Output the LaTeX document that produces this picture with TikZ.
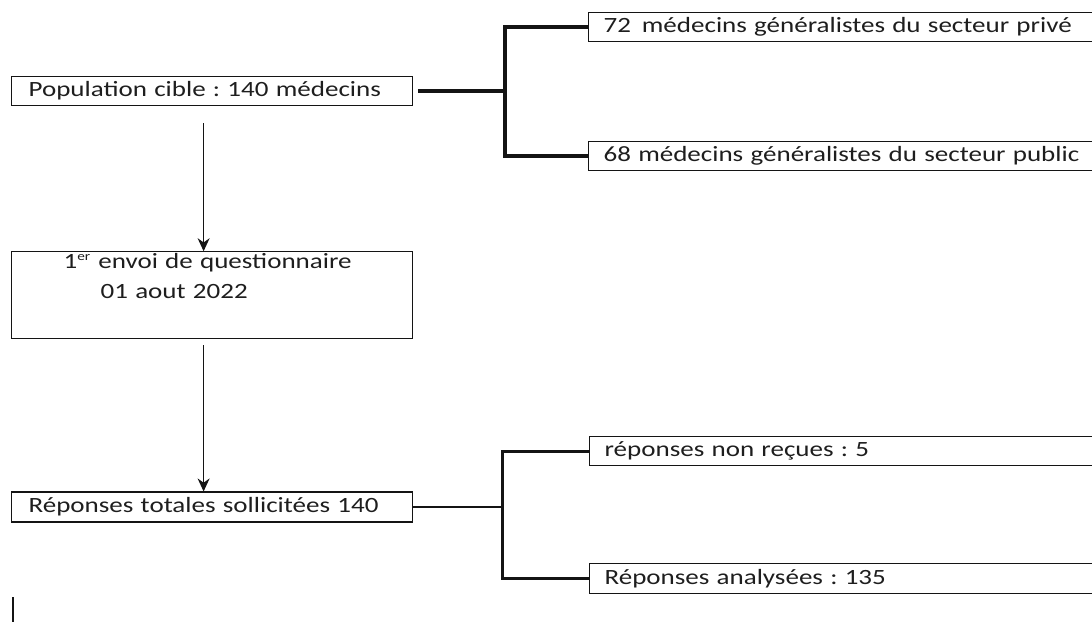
\documentclass[tikz,border=0pt]{standalone}
\usepackage{fontspec}
\setmainfont{Carlito}[FakeStretch=1.24]
\usepackage{xcolor}
\usepackage{tikz}
\usetikzlibrary{arrows.meta,positioning,calc}
\definecolor{cadrenoir}{RGB}{20, 20, 20}
\definecolor{textegris}{RGB}{30, 30, 30}
\frenchspacing

\begin{document}
\begin{tikzpicture}[node distance=2.9cm, >={Stealth[length=0.26cm,width=0.24cm]},
    cadre/.style={draw=cadrenoir, line width=0.7pt, rectangle, inner ysep=0pt, align=left, text=textegris, font=\fontsize{12.4}{17}\selectfont},
    cadregauche/.style={cadre, minimum width=8.02cm, inner xsep=0.34cm, text width=7.34cm},
    cadredroit/.style={cadre, anchor=north west, minimum height=0.58cm, inner xsep=0.3cm, text width=11cm},
    branche/.style={line width=2pt, cadrenoir},
    fleche/.style={->, line width=0.8pt, cadrenoir}]
    \useasboundingbox (0,0) rectangle (21.84,-12.44);
    \clip (0,0) rectangle (21.84,-12.44);

    % colonne de gauche
    \node [cadregauche, minimum height=0.58cm, anchor=north west] (population) at (0.22,-1.52) {Population cible : 140 médecins};
    \node [cadregauche, minimum height=1.74cm, below=2.9cm of population] (envoi) {\hspace{0.7cm}1\textsuperscript{\scriptsize er} envoi de questionnaire\\ \hspace{1.44cm}01 aout 2022\\ \strut};
    \node [cadregauche, minimum height=0.6cm, below=3.04cm of envoi] (sollicitees) {Réponses totales sollicitées 140};

    % colonne de droite
    \node [cadredroit] (prive) at (11.76,-0.24) {72 \,médecins généralistes du secteur privé};
    \node [cadredroit] (public) at (11.76,-2.82) {68 médecins généralistes du secteur public};
    \node [cadredroit] (nonrecues) at (11.78,-8.72) {réponses non reçues : 5};
    \node [cadredroit, minimum height=0.6cm] (analysees) at (11.78,-11.26) {Réponses analysées : 135};

    % embranchements
    \coordinate (noeudhaut) at ($(population.east)+(1.84,0)$);
    \draw [branche, line width=2.6pt] ([xshift=0.1cm]population.east) -- (noeudhaut);
    \draw [branche] (prive.west) -| (noeudhaut) |- (public.west);
    \coordinate (noeudbas) at ($(sollicitees.east)+(1.78,0)$);
    \draw [branche, line width=1.6pt] (sollicitees.east) -- (noeudbas);
    \draw [branche, line width=1.6pt] (nonrecues.west) -| (noeudbas) |- (analysees.west);

    % fleches verticales
    \draw [fleche] ([xshift=-0.17cm, yshift=-0.34cm]population.south) -- ([xshift=-0.17cm]envoi.north);
    \draw [fleche] ([xshift=-0.17cm, yshift=-0.12cm]envoi.south) -- ([xshift=-0.17cm]sollicitees.north);

    \draw [line width=0.7pt, cadrenoir] (0.26,-11.94) -- (0.26,-12.44);
\end{tikzpicture}
\end{document}
